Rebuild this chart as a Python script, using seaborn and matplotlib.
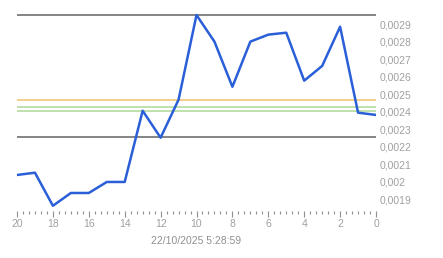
import matplotlib
matplotlib.use("Agg")
import matplotlib.pyplot as plt
import seaborn as sns
import pandas as pd
import numpy as np
from matplotlib.ticker import MultipleLocator, FuncFormatter

# ---- data ----
x_steps = [20, 19, 18, 17, 16, 15, 14, 13, 12, 11, 10, 9, 8, 7, 6, 5, 4, 3, 2, 1, 0]
values = [0.002039, 0.002052, 0.001863, 0.001936, 0.001936, 0.001999, 0.001999,
          0.002406, 0.002252, 0.002469, 0.002953, 0.002801, 0.002543, 0.002801,
          0.002841, 0.002852, 0.002578, 0.002662, 0.002886, 0.002395, 0.002382]
level_max = 0.002955
level_orange = 0.002466
level_green1 = 0.002427
level_green2 = 0.002405
level_low = 0.002254
y_ticks = [0.0019, 0.0020, 0.0021, 0.0022, 0.0023, 0.0024, 0.0025, 0.0026, 0.0027, 0.0028, 0.0029]
x_ticks = [0, 2, 4, 6, 8, 10, 12, 14, 16, 18, 20]
x_label = "22/10/2025 5:28:59"

sns.set_theme(style="white")
plt.rcParams['font.family'] = ['Liberation Sans', 'DejaVu Sans']

df = pd.DataFrame({"step": x_steps, "value": values})

fig = plt.figure(figsize=(4.43, 2.58), dpi=100)
ax = fig.add_axes([17 / 443, 1 - 211 / 258, (376 - 17) / 443, 211 / 258])

for lvl, col in [(level_max, "#707070"), (level_low, "#707070"),
                 (level_orange, "#f0c878"), (level_green1, "#b4dca0"),
                 (level_green2, "#b4dca0")]:
    ax.axhline(lvl, color=col, lw=1.2, zorder=1)

sns.lineplot(data=df, x="step", y="value", ax=ax, color="#2a5fd8", lw=1.8, zorder=3)

ax.set_xlim(20, 0)
ax.set_ylim(0.0018331, 0.0030389)

ax.set_xticks(x_ticks)
ax.set_xticklabels([str(t) for t in x_ticks])
ax.xaxis.set_minor_locator(MultipleLocator(1 / 3))
ax.tick_params(axis="x", which="major", length=4, width=0.8, color="#909090",
               labelsize=7.5, labelcolor="#a0a0a0", pad=2, bottom=True)
ax.tick_params(axis="x", which="minor", length=2, width=0.8, color="#909090", bottom=True)

ax.yaxis.tick_right()
ax.set_yticks(y_ticks)
ax.set_yticklabels([("%g" % t).replace(".", ",") for t in y_ticks])
ax.tick_params(axis="y", which="both", length=0, labelsize=7.5, labelcolor="#a0a0a0", pad=2.5)

for s in ax.spines.values():
    s.set_visible(False)
ax.grid(False)
ax.set_ylabel("")
ax.set_xlabel(x_label, fontsize=7.5, color="#909090", labelpad=5)

fig.savefig("out.png", dpi=100)
